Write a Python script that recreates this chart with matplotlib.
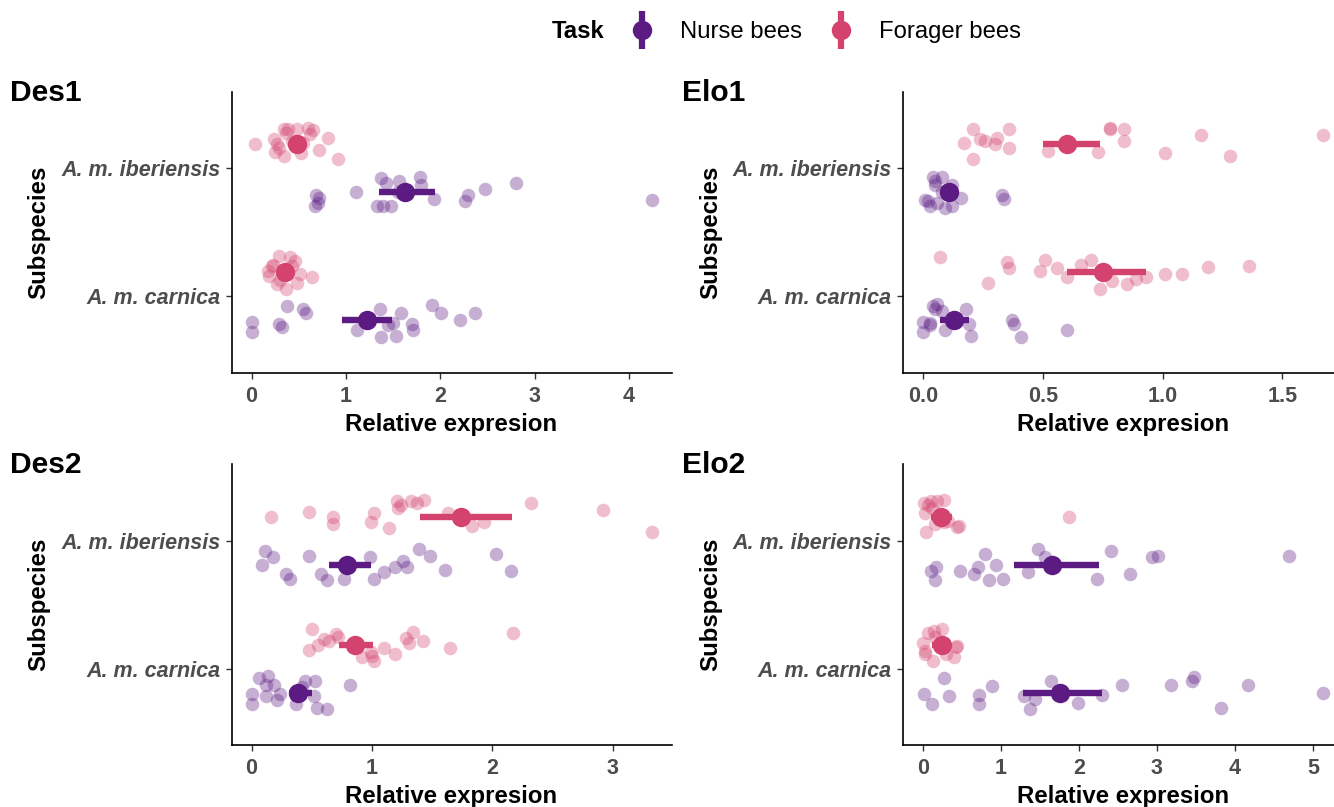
import numpy as np
import matplotlib.pyplot as plt
from matplotlib.lines import Line2D

plt.rcParams['font.family'] = ['Liberation Sans', 'DejaVu Sans']

# categories
subspecies = ['A. m. carnica', 'A. m. iberiensis']   # y = 1, 2
tasks = ['Nurse bees', 'Forager bees']
task_colors = {'Nurse bees': '#5C1A83', 'Forager bees': '#D3436E'}

# ---- Des1: relative expression of single bees, y jitter
des1_ibe_forager = [0.04, 0.24, 0.27, 0.25, 0.34, 0.34, 0.39, 0.48, 0.60, 0.65, 0.62, 0.81, 0.72, 0.52, 0.92, 0.29, 0.37, 0.43, 0.55]
des1_ibe_forager_jit = [0.00, 0.04, 0.00, -0.06, -0.09, 0.12, 0.12, 0.12, 0.13, 0.11, 0.08, 0.05, -0.04, -0.07, -0.11, -0.03, 0.09, 0.03, 0.01]
des1_ibe_nurse = [0.68, 0.72, 0.67, 0.70, 1.11, 1.37, 1.43, 1.56, 1.79, 1.80, 1.33, 1.39, 1.48, 1.93, 2.26, 2.30, 2.48, 2.80, 4.24, 1.55]
des1_ibe_nurse_jit = [-0.02, -0.04, -0.11, -0.08, 0.00, 0.11, 0.07, 0.09, 0.12, 0.06, -0.11, -0.11, -0.11, -0.05, -0.07, -0.02, 0.03, 0.07, -0.06, 0.00]
des1_car_forager = [0.29, 0.23, 0.41, 0.46, 0.18, 0.19, 0.27, 0.37, 0.48, 0.51, 0.64, 0.43, 0.30, 0.22]
des1_car_forager_jit = [0.13, 0.06, 0.12, 0.09, 0.01, -0.03, -0.09, -0.13, -0.08, -0.01, -0.04, 0.05, -0.06, 0.05]
des1_car_nurse = [0.00, 0.00, 0.38, 0.55, 0.58, 0.29, 0.32, 1.12, 1.36, 1.37, 1.53, 1.58, 1.50, 1.70, 1.71, 1.91, 2.01, 2.21, 2.37, 1.45]
des1_car_nurse_jit = [-0.01, -0.09, 0.11, 0.09, 0.06, -0.03, -0.05, -0.08, 0.09, -0.13, -0.12, 0.06, -0.02, -0.03, -0.08, 0.12, 0.06, 0.00, 0.06, -0.04]
# summaries, order: ibe forager, ibe nurse, car forager, car nurse
des1_mean = [0.48, 1.63, 0.36, 1.22]
des1_lo = [0.41, 1.35, 0.30, 0.96]
des1_hi = [0.55, 1.95, 0.42, 1.49]

# ---- Elo1
elo1_ibe_forager = [0.21, 0.17, 0.21, 0.24, 0.26, 0.31, 0.30, 0.36, 0.36, 0.52, 0.73, 0.78, 0.78, 0.84, 0.84, 1.01, 1.16, 1.28, 1.67]
elo1_ibe_forager_jit = [0.12, 0.01, -0.11, 0.04, 0.03, 0.05, 0.00, 0.12, -0.03, -0.05, -0.06, 0.13, 0.12, 0.12, 0.03, -0.07, 0.07, -0.09, 0.07]
elo1_ibe_nurse = [0.04, 0.05, 0.08, 0.12, 0.02, 0.03, 0.06, 0.09, 0.12, 0.16, 0.08, 0.33, 0.34, 0.05, 0.01]
elo1_ibe_nurse_jit = [0.12, 0.09, 0.12, 0.06, -0.07, -0.11, -0.08, -0.12, -0.11, -0.04, 0.00, -0.02, -0.05, 0.06, -0.06]
elo1_car_forager = [0.07, 0.27, 0.35, 0.36, 0.51, 0.49, 0.56, 0.60, 0.66, 0.70, 0.74, 0.79, 0.85, 0.89, 0.93, 1.01, 1.08, 1.19, 1.36]
elo1_car_forager_jit = [0.12, -0.08, 0.08, 0.03, 0.10, 0.01, 0.03, -0.04, 0.06, 0.10, -0.13, -0.07, -0.09, -0.05, -0.04, -0.01, -0.01, 0.04, 0.05]
elo1_car_nurse = [0.04, 0.06, 0.05, 0.08, 0.00, 0.03, 0.03, 0.00, 0.09, 0.18, 0.19, 0.20, 0.37, 0.38, 0.41, 0.60]
elo1_car_nurse_jit = [0.11, 0.13, 0.09, 0.07, -0.01, -0.02, -0.04, -0.09, -0.08, 0.09, -0.03, -0.12, 0.00, -0.03, -0.13, -0.08]
elo1_mean = [0.60, 0.11, 0.75, 0.13]
elo1_lo = [0.50, 0.08, 0.60, 0.07]
elo1_hi = [0.74, 0.14, 0.93, 0.19]

# ---- Des2
des2_ibe_forager = [0.16, 0.48, 0.68, 0.68, 0.99, 1.02, 1.14, 1.21, 1.22, 1.24, 1.32, 1.37, 1.43, 1.63, 1.83, 1.93, 2.32, 2.92, 3.32]
des2_ibe_forager_jit = [0.00, 0.04, 0.00, -0.06, -0.04, 0.03, -0.09, 0.12, 0.07, 0.09, 0.12, 0.11, 0.13, 0.03, -0.07, -0.04, 0.11, 0.05, -0.12]
des2_ibe_nurse = [0.11, 0.18, 0.09, 0.29, 0.32, 0.48, 0.58, 0.63, 0.77, 0.98, 1.02, 1.10, 1.19, 1.26, 1.29, 1.39, 1.48, 1.61, 2.03, 2.15]
des2_ibe_nurse_jit = [0.11, 0.06, 0.00, -0.07, -0.11, 0.07, -0.07, -0.12, -0.11, 0.06, -0.11, -0.06, -0.02, 0.03, -0.02, 0.12, 0.07, -0.04, 0.08, -0.05]
des2_car_forager = [0.50, 0.48, 0.55, 0.60, 0.64, 0.70, 0.72, 0.92, 0.99, 1.02, 1.00, 1.10, 1.19, 1.28, 1.34, 1.31, 1.42, 1.65, 2.17]
des2_car_forager_jit = [0.12, -0.04, 0.00, 0.04, 0.03, 0.08, 0.06, -0.10, -0.06, -0.13, -0.09, -0.03, -0.07, 0.05, 0.10, 0.01, 0.03, -0.03, 0.09]
des2_car_nurse = [0.06, 0.14, 0.12, 0.19, 0.24, 0.21, 0.12, 0.00, 0.00, 0.37, 0.44, 0.53, 0.52, 0.54, 0.63, 0.82, 0.42]
des2_car_nurse_jit = [0.11, 0.13, 0.06, 0.06, -0.01, -0.06, -0.03, -0.01, -0.09, -0.09, 0.09, 0.09, -0.03, -0.12, -0.13, 0.06, 0.04]
des2_mean = [1.74, 0.79, 0.86, 0.39]
des2_lo = [1.40, 0.64, 0.73, 0.31]
des2_hi = [2.16, 0.99, 1.01, 0.50]

# ---- Elo2
elo2_ibe_forager = [0.01, 0.10, 0.18, 0.27, 0.03, 0.04, 0.15, 0.27, 0.44, 0.46, 1.87, 0.12, 0.06, 0.21, 0.32]
elo2_ibe_forager_jit = [0.11, 0.12, 0.12, 0.13, 0.03, -0.12, -0.06, -0.04, -0.08, -0.07, 0.00, 0.07, 0.09, 0.01, -0.03]
elo2_ibe_nurse = [0.10, 0.17, 0.15, 0.47, 0.66, 0.71, 0.80, 0.93, 0.85, 1.02, 1.35, 1.48, 1.56, 2.23, 2.41, 2.66, 2.94, 3.01, 4.69]
elo2_ibe_nurse_jit = [-0.05, -0.02, -0.12, -0.05, -0.07, -0.02, 0.08, 0.00, -0.12, -0.11, -0.06, 0.12, 0.06, -0.11, 0.11, -0.07, 0.06, 0.07, 0.07]
elo2_car_forager = [0.06, 0.14, 0.24, 0.00, 0.03, 0.13, 0.29, 0.40, 0.42, 0.44, 0.16, 0.03]
elo2_car_forager_jit = [0.09, 0.11, 0.12, 0.01, -0.07, -0.13, -0.07, -0.10, -0.02, -0.01, 0.06, -0.05]
elo2_car_nurse = [0.01, 0.11, 0.27, 0.33, 0.72, 0.72, 0.89, 1.30, 1.37, 1.43, 1.64, 1.99, 2.29, 2.55, 3.18, 3.45, 3.47, 3.82, 4.17, 5.13]
elo2_car_nurse_jit = [-0.01, -0.09, 0.11, -0.03, -0.02, -0.09, 0.05, -0.03, -0.13, -0.05, 0.09, -0.08, -0.02, 0.06, 0.06, 0.09, 0.12, -0.12, 0.06, 0.00]
elo2_mean = [0.23, 1.66, 0.24, 1.76]
elo2_lo = [0.10, 1.17, 0.12, 1.28]
elo2_hi = [0.37, 2.26, 0.36, 2.30]

des1_ticks = [0, 1, 2, 3, 4]
elo1_ticks = [0.0, 0.5, 1.0, 1.5]
des2_ticks = [0, 1, 2, 3]
elo2_ticks = [0, 1, 2, 3, 4, 5]

# group order used in summaries
groups = [('A. m. iberiensis', 'Forager bees'), ('A. m. iberiensis', 'Nurse bees'),
          ('A. m. carnica', 'Forager bees'), ('A. m. carnica', 'Nurse bees')]

panels = {
    'Des1': dict(points=[(des1_ibe_forager, des1_ibe_forager_jit), (des1_ibe_nurse, des1_ibe_nurse_jit),
                         (des1_car_forager, des1_car_forager_jit), (des1_car_nurse, des1_car_nurse_jit)],
                 mean=des1_mean, lo=des1_lo, hi=des1_hi, ticks=des1_ticks, fmt='{:.0f}'),
    'Elo1': dict(points=[(elo1_ibe_forager, elo1_ibe_forager_jit), (elo1_ibe_nurse, elo1_ibe_nurse_jit),
                         (elo1_car_forager, elo1_car_forager_jit), (elo1_car_nurse, elo1_car_nurse_jit)],
                 mean=elo1_mean, lo=elo1_lo, hi=elo1_hi, ticks=elo1_ticks, fmt='{:.1f}'),
    'Des2': dict(points=[(des2_ibe_forager, des2_ibe_forager_jit), (des2_ibe_nurse, des2_ibe_nurse_jit),
                         (des2_car_forager, des2_car_forager_jit), (des2_car_nurse, des2_car_nurse_jit)],
                 mean=des2_mean, lo=des2_lo, hi=des2_hi, ticks=des2_ticks, fmt='{:.0f}'),
    'Elo2': dict(points=[(elo2_ibe_forager, elo2_ibe_forager_jit), (elo2_ibe_nurse, elo2_ibe_nurse_jit),
                         (elo2_car_forager, elo2_car_forager_jit), (elo2_car_nurse, elo2_car_nurse_jit)],
                 mean=elo2_mean, lo=elo2_lo, hi=elo2_hi, ticks=elo2_ticks, fmt='{:.0f}'),
}

W, H = 1334, 807
fig = plt.figure(figsize=(W / 100, H / 100), dpi=100)

# panel boxes in pixels: left, top (right panels run a bit past the edge, as in the original)
boxes = {'Des1': (231.5, 91.7), 'Elo1': (903, 91.7), 'Des2': (231.5, 464), 'Elo2': (903, 464)}
pw, ph = 440, 281.3
dodge = {'Nurse bees': -0.1875, 'Forager bees': 0.1875}
grey = '#4D4D4D'

for gene, p in panels.items():
    left, top = boxes[gene]
    ax = fig.add_axes([left / W, 1 - (top + ph) / H, pw / W, ph / H])

    allx = []
    for (sub, task), (xs, js) in zip(groups, p['points']):
        y0 = subspecies.index(sub) + 1 + dodge[task]
        ax.scatter(xs, y0 + np.array(js), s=95, color=task_colors[task], alpha=0.35,
                   linewidths=0, zorder=2)
        allx += list(xs)
    for i, (sub, task) in enumerate(groups):
        y0 = subspecies.index(sub) + 1 + dodge[task]
        ax.plot([p['lo'][i], p['hi'][i]], [y0, y0], color=task_colors[task], lw=4.6,
                solid_capstyle='butt', zorder=3)
        ax.plot(p['mean'][i], y0, 'o', ms=14, color=task_colors[task], mec='none', zorder=4)
    allx += p['lo'] + p['hi']

    lo, hi = min(allx), max(allx)
    pad = 0.05 * (hi - lo)
    ax.set_xlim(lo - pad, hi + pad)
    ax.set_ylim(0.4, 2.6)

    ax.set_xticks(p['ticks'])
    ax.set_xticklabels([p['fmt'].format(t) for t in p['ticks']])
    ax.set_yticks([1, 2])
    ax.set_yticklabels(subspecies, fontstyle='italic')
    for lab in ax.get_xticklabels() + ax.get_yticklabels():
        lab.set_fontweight('bold')
        lab.set_color(grey)
        lab.set_fontsize(15.5)
    ax.tick_params(axis='x', length=4.5, width=1, color='#333333', pad=4.5)
    ax.tick_params(axis='y', length=4.5, width=1, color='#333333', pad=3.5)

    for s in ['top', 'right']:
        ax.spines[s].set_visible(False)
    for s in ['left', 'bottom']:
        ax.spines[s].set_linewidth(1.2)

    ax.set_xlabel('Relative expresion', fontsize=17.3, fontweight='bold')
    ax.xaxis.set_label_coords(0.5, -39.5 / ph)
    ax.set_ylabel('Subspecies', fontsize=17.3, fontweight='bold')
    ax.yaxis.set_label_coords(-181 / pw, 0.5)
    ax.text(-221.5 / pw, 1 - 9 / ph, gene, transform=ax.transAxes,
            fontsize=21.6, fontweight='bold', va='baseline', ha='left')

# legend at top
fig.text(552 / W, 1 - 38.5 / H, 'Task', fontsize=17.2, fontweight='bold', va='baseline')
handles = []
for task in tasks:
    bar = Line2D([], [], ls='none', marker='|', ms=28, mew=4.5, color=task_colors[task])
    dot = Line2D([], [], ls='none', marker='o', ms=14, mec='none', color=task_colors[task])
    handles.append((bar, dot))
fig.legend(handles, tasks, ncol=2, loc='center left', bbox_to_anchor=(632 / W, 1 - 32 / H),
           frameon=False, fontsize=17.2, handlelength=0.85, handletextpad=1.17,
           columnspacing=1.2, borderpad=0, borderaxespad=0)

fig.savefig('out.png', dpi=100)
